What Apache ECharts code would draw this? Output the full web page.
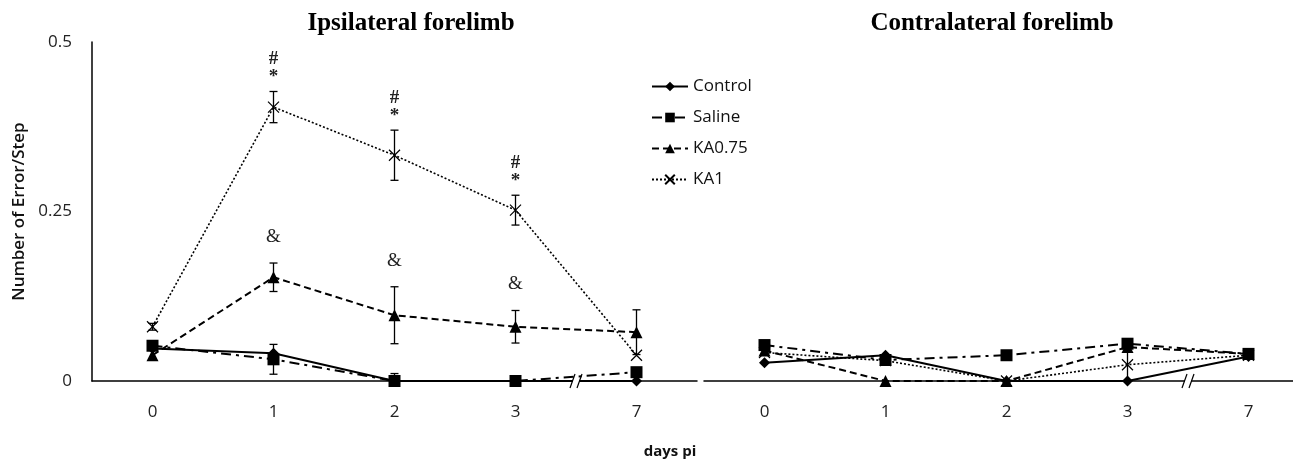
<!DOCTYPE html>
<html>
<head>
<meta charset="utf-8">
<script src="https://cdn.jsdelivr.net/npm/echarts@6/dist/echarts.min.js"></script>
<style>
  html, body { margin: 0; padding: 0; background: #fff; }
  #chart { width: 1293px; height: 460px; }
</style>
</head>
<body>
<div id="chart"></div>
<script>

var days = ['0', '1', '2', '3', '7'];
var groups = ['Control', 'Saline', 'KA0.75', 'KA1'];

// ipsilateral forelimb (means, then SEM)
var ipsiControl = [0.048, 0.041, 0, 0, 0];
var ipsiSaline = [0.052, 0.032, 0, 0, 0.013];
var ipsiKA075 = [0.038, 0.153, 0.097, 0.080, 0.072];
var ipsiKA1 = [0.080, 0.404, 0.333, 0.252, 0.038];
var ipsiSalineErr = [0, 0.022, 0.011, 0, 0];
var ipsiKA075Err = [0, 0.021, 0.042, 0.024, 0.033];
var ipsiKA1Err = [0.005, 0.023, 0.037, 0.022, 0];
var ipsiKA1Notes = ['', '#\n*', '#\n*', '#\n*', ''];
var ipsiKA075Notes = ['', '&', '&', '&', ''];

// contralateral forelimb
var contraControl = [0.027, 0.038, 0, 0, 0.036];
var contraSaline = [0.053, 0.031, 0.038, 0.055, 0.040];
var contraKA075 = [0.045, 0, 0, 0.050, 0.040];
var contraKA1 = [0.042, 0.030, 0, 0.024, 0.038];
var contraSalineErr = [0, 0, 0, 0.007, 0];
var contraKA1Err = [0, 0, 0, 0.024, 0];

var myChart = echarts.init(document.getElementById('chart'));

var lineStyles = {
	'Control': { type: 'solid', width: 2 },
	'Saline': { type: [10, 5, 3, 5], width: 2 },
	'KA0.75': { type: [7, 4], width: 2 },
	'KA1': { type: [2, 2], width: 1.6 }
};
var symbols = {
	'Control': ['diamond', 11],
	'Saline': ['rect', 12],
	'KA0.75': ['triangle', 12],
	'KA1': ['path://M0,0L10,10M10,0L0,10', 11]
};

function lineSeries(name, values, idx) {
	return {
		name: name,
		type: 'line',
		xAxisIndex: idx,
		yAxisIndex: idx,
		data: values,
		symbol: symbols[name][0],
		symbolSize: symbols[name][1],
		showAllSymbol: true,
		lineStyle: { color: '#000', type: lineStyles[name].type, width: lineStyles[name].width },
		itemStyle: { color: name === 'KA1' ? 'rgba(0,0,0,0)' : '#000', borderColor: '#000', borderWidth: name === 'KA1' ? 1.2 : 0 },
		emphasis: { disabled: true },
		animation: false,
		z: 3
	};
}

function errSeries(means, errs, notes, gap, font, idx) {
	var data = means.map(function (m, i) {
		return [i, m, errs[i]];
	});
	return {
		type: 'custom',
		xAxisIndex: idx,
		yAxisIndex: idx,
		data: data,
		silent: true,
		z: 4,
		animation: false,
		renderItem: function (params, api) {
			var i = api.value(0), m = api.value(1), e = api.value(2);
			var top = api.coord([i, m + e]);
			var bot = api.coord([i, Math.max(0, m - e)]);
			var kids = [];
			var st = { stroke: '#000', lineWidth: 1.3 };
			if (e > 0) {
				kids.push({ type: 'line', shape: { x1: top[0], y1: top[1], x2: bot[0], y2: bot[1] }, style: st });
				kids.push({ type: 'line', shape: { x1: top[0] - 4, y1: top[1], x2: top[0] + 4, y2: top[1] }, style: st });
				kids.push({ type: 'line', shape: { x1: bot[0] - 4, y1: bot[1], x2: bot[0] + 4, y2: bot[1] }, style: st });
			}
			var note = notes ? notes[params.dataIndex] : '';
			if (note) {
				kids.push({
					type: 'text',
					style: {
						text: note, x: top[0], y: top[1] - gap,
						align: 'center', verticalAlign: 'bottom',
						font: font, lineHeight: 18, fill: '#222'
					}
				});
			}
			return { type: 'group', children: kids };
		}
	};
}

var axisFont = { fontFamily: 'Open Sans', fontSize: 17, color: '#222' };

var option = {
	backgroundColor: '#fff',
	title: [
		{ text: 'Ipsilateral forelimb', left: 406, top: 6, textAlign: 'center',
			textStyle: { fontFamily: 'Liberation Serif', fontWeight: 'bold', fontSize: 25, color: '#000' } },
		{ text: 'Contralateral forelimb', left: 987, top: 6, textAlign: 'center',
			textStyle: { fontFamily: 'Liberation Serif', fontWeight: 'bold', fontSize: 25, color: '#000' } },
		{ text: 'days pi', left: 665, top: 439, textAlign: 'center',
			textStyle: { fontFamily: 'Open Sans', fontWeight: 'bold', fontSize: 15, color: '#111' } }
	],
	legend: {
		orient: 'vertical',
		left: 646,
		top: 73,
		itemWidth: 36,
		itemHeight: 12,
		itemGap: 14,
		data: groups,
		textStyle: { fontFamily: 'Open Sans', fontSize: 17, color: '#111' }
	},
	grid: [
		{ left: 92, top: 42, width: 605, height: 339, outerBoundsMode: 'none' },
		{ left: 704, top: 42, width: 605, height: 339, outerBoundsMode: 'none' }
	],
	xAxis: [0, 1].map(function (i) {
		return {
			type: 'category',
			gridIndex: i,
			data: days,
			boundaryGap: true,
			axisLine: { lineStyle: { color: '#000', width: 1.5 } },
			axisTick: { show: false },
			axisLabel: Object.assign({ margin: 23 }, axisFont)
		};
	}),
	yAxis: [
		{
			type: 'value', gridIndex: 0, min: 0, max: 0.5, interval: 0.25,
			name: 'Number of Error/Step', nameLocation: 'middle', nameGap: 64,
			nameTextStyle: { fontFamily: 'Open Sans', fontWeight: 600, fontSize: 17, color: '#111' },
			axisLine: { show: true, lineStyle: { color: '#000', width: 1.5 } },
			axisTick: { show: false },
			splitLine: { show: false },
			axisLabel: Object.assign({ margin: 20 }, axisFont)
		},
		{
			type: 'value', gridIndex: 1, min: 0, max: 0.5, interval: 0.25, show: false,
			splitLine: { show: false }
		}
	],
	series: [
		lineSeries('Control', ipsiControl, 0),
		lineSeries('Saline', ipsiSaline, 0),
		lineSeries('KA0.75', ipsiKA075, 0),
		lineSeries('KA1', ipsiKA1, 0),
		lineSeries('Control', contraControl, 1),
		lineSeries('Saline', contraSaline, 1),
		lineSeries('KA0.75', contraKA075, 1),
		lineSeries('KA1', contraKA1, 1),
		errSeries(ipsiSaline, ipsiSalineErr, null, 0, '', 0),
		errSeries(ipsiKA075, ipsiKA075Err, ipsiKA075Notes, 17, '19px "Liberation Serif"', 0),
		errSeries(ipsiKA1, ipsiKA1Err, ipsiKA1Notes, 5, 'bold 19px "Liberation Serif"', 0),
		errSeries(contraSaline, contraSalineErr, null, 0, '', 1),
		errSeries(contraKA1, contraKA1Err, null, 0, '', 1)
	]
};

myChart.setOption(option);

// axis break marks "//" between day 3 and day 7
var marks = [];
[0, 1].forEach(function (g) {
	var a = myChart.convertToPixel({ xAxisIndex: g, yAxisIndex: g }, [3, 0]);
	var b = myChart.convertToPixel({ xAxisIndex: g, yAxisIndex: g }, [4, 0]);
	var x = (a[0] + b[0]) / 2, y = a[1];
	marks.push({ type: 'rect', shape: { x: x - 3, y: y - 2, width: 6, height: 4 }, style: { fill: '#fff' }, z: 10 });
	marks.push({ type: 'line', shape: { x1: x - 6, y1: y + 7, x2: x - 1, y2: y - 7 }, style: { stroke: '#000', lineWidth: 1.2 }, z: 11 });
	marks.push({ type: 'line', shape: { x1: x + 1, y1: y + 7, x2: x + 6, y2: y - 7 }, style: { stroke: '#000', lineWidth: 1.2 }, z: 11 });
});
myChart.setOption({ graphic: marks });

</script>
</body>
</html>
